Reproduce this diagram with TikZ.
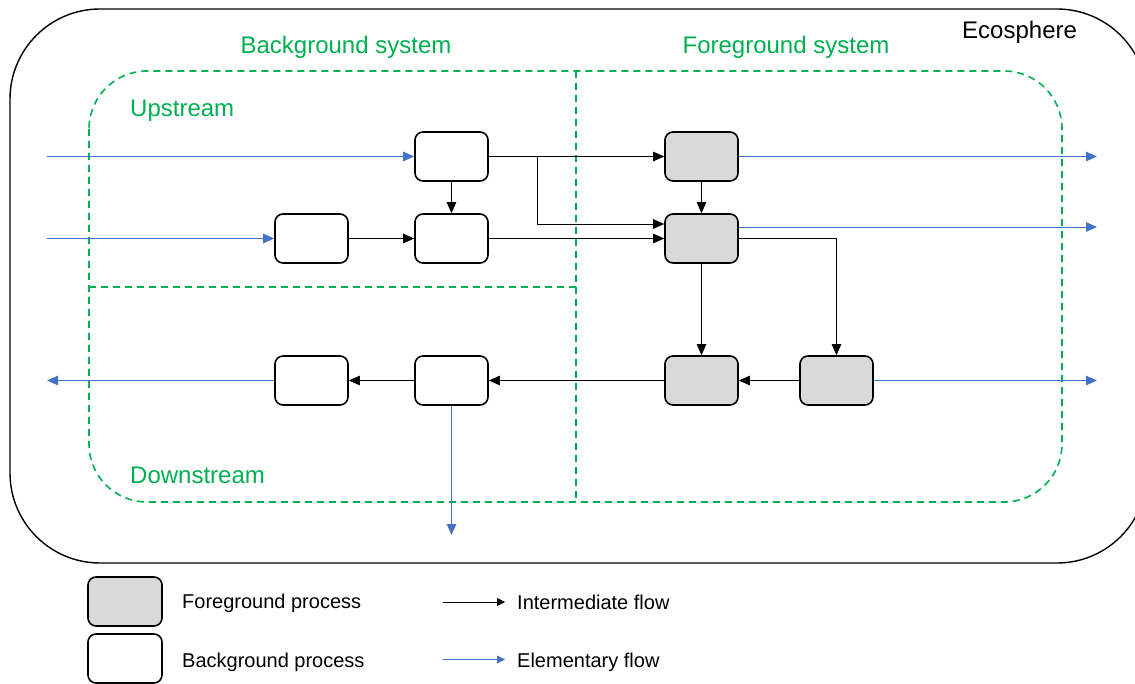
\documentclass[tikz,border=0pt]{standalone}
\usepackage{fontspec}
\setmainfont{Liberation Sans}
\usetikzlibrary{arrows.meta}
\definecolor{grn}{HTML}{00B050}
\definecolor{elemblue}{HTML}{4472C4}
\definecolor{fgfill}{HTML}{D9D9D9}

\begin{document}
\begin{tikzpicture}[x=1pt,y=-1pt,
  proc/.style={draw, line width=1.6pt, rounded corners=8pt, minimum width=73pt, minimum height=49pt, inner sep=0pt},
  fgproc/.style={proc, fill=fgfill},
  bgproc/.style={proc, fill=white},
  tip/.style={-{Triangle[length=11pt,width=9.5pt]}},
  inter/.style={draw=black, line width=0.8pt, tip},
  elemflow/.style={draw=elemblue, line width=0.9pt, tip},
  region/.style={draw=grn, line width=1.6pt, dash pattern=on 7pt off 5pt},
  lab/.style={text=grn, font=\fontsize{24}{28}\selectfont, inner sep=0pt, anchor=base west},
  legtext/.style={font=\fontsize{20}{24}\selectfont, inner sep=0pt, anchor=base west},
  ]
\useasboundingbox (0,0) rectangle (1135,684);
\clip (0,0) rectangle (1135,684);

% ecosphere boundary
\draw[line width=1.4pt, rounded corners=90pt] (10,9) rectangle (1147,563);
\node[inner sep=0pt, anchor=base west, font=\fontsize{24}{28}\selectfont] (eco) at (962,39) {Ecosphere};

% system boundaries
\draw[region, rounded corners=58pt] (89,71) rectangle (1062,502);
\draw[region] (576,71) -- (576,502);
\draw[region] (89,287) -- (576,287);
\node[lab, anchor=base] (bgsys) at (346,54) {Background system};
\node[lab, anchor=base] (fgsys) at (786,54) {Foreground system};
\node[lab] (up) at (130,117) {Upstream};
\node[lab] (down) at (130,483) {Downstream};

% processes
\node[bgproc] (b1) at (451.5,156.5) {};
\node[bgproc] (b2) at (451.5,238.5) {};
\node[bgproc] (b3) at (311.5,238.5) {};
\node[bgproc] (b4) at (311.5,380.5) {};
\node[bgproc] (b5) at (451.5,380.5) {};
\node[fgproc] (f1) at (701.5,156.5) {};
\node[fgproc] (f2) at (701.5,238.5) {};
\node[fgproc] (f3) at (701.5,380.5) {};
\node[fgproc] (f4) at (836.5,380.5) {};

% free ends of elementary flows
\coordinate (in1) at (47,156.5);
\coordinate (in2) at (47,238.5);
\coordinate (out1) at (1097,156.5);
\coordinate (out2) at (1097,227);
\coordinate (out3) at (47,380.5);
\coordinate (out4) at (451.5,535);
\coordinate (out5) at (1097,380.5);
\coordinate (br) at (537,156.5);

% elementary flows
\draw[elemflow] (in1) -- (b1.west);
\draw[elemflow] (in2) -- (b3.west);
\draw[elemflow] (f1.east) -- (out1);
\draw[elemflow] ([yshift=11.5pt]f2.east) -- (out2);
\draw[elemflow] (b4.west) -- (out3);
\draw[elemflow] (b5.south) -- (out4);
\draw[elemflow] (f4.east) -- (out5);

% intermediate flows
\draw[inter] (b3) -- (b2);
\draw[inter] (b1) -- (b2);
\draw[inter] (b1) -- (f1);
\draw[inter] (br) |- ([yshift=14.5pt]f2.west);
\draw[inter] (b2) -- (f2);
\draw[inter] (f1) -- (f2);
\draw[inter] (f2.east) -| (f4.north);
\draw[inter] (f2) -- (f3);
\draw[inter] (f4) -- (f3);
\draw[inter] (f3) -- (b5);
\draw[inter] (b5) -- (b4);

% legend
\node[fgproc, minimum width=74pt] (lg1) at (125,601.5) {};
\node[bgproc, minimum width=74pt] (lg2) at (125,658.5) {};
\node[legtext] (lt1) at (182,608) {Foreground process};
\node[legtext] (lt2) at (182,667) {Background process};
\coordinate (la1) at (443,602);
\coordinate (lb1) at (505,602);
\coordinate (la2) at (443,659.5);
\coordinate (lb2) at (505,659.5);
\draw[inter, -{Triangle[length=8pt,width=8pt]}] (la1) -- (lb1);
\draw[elemflow, -{Triangle[length=8pt,width=8pt]}] (la2) -- (lb2);
\node[legtext] (lt3) at (517,609) {Intermediate flow};
\node[legtext] (lt4) at (517,667) {Elementary flow};
\end{tikzpicture}
\end{document}
